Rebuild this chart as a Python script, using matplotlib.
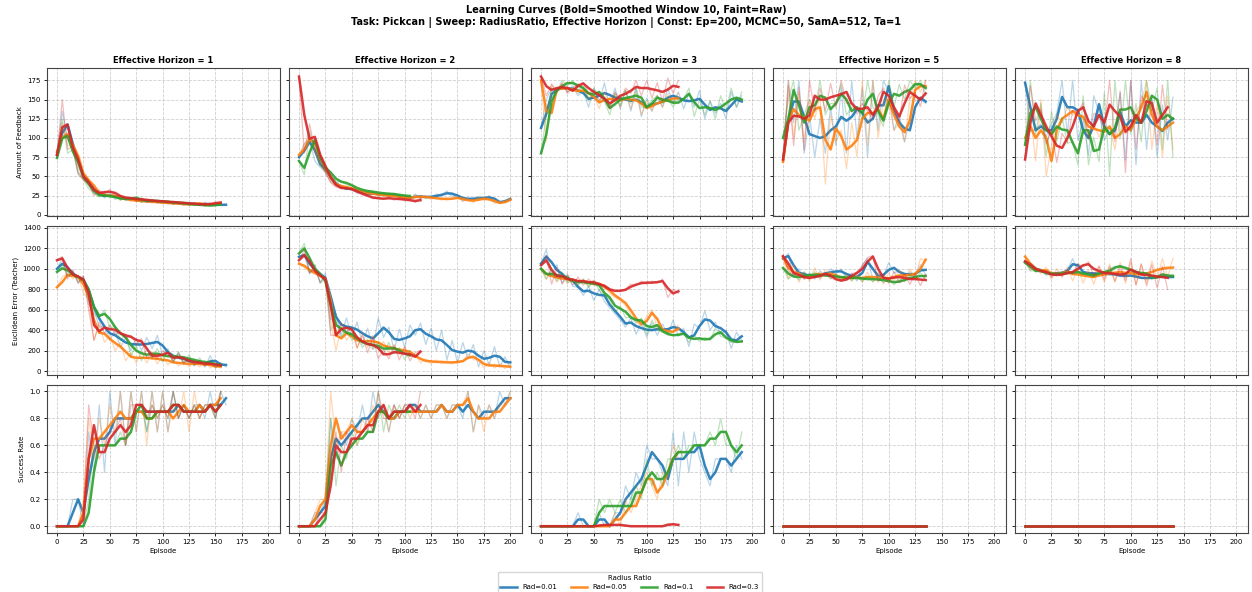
import numpy as np
import pandas as pd
import matplotlib
matplotlib.use("Agg")
import matplotlib.pyplot as plt

# Raw values logged every 5 episodes, one list per radius ratio:
# [Rad=0.01, Rad=0.05, Rad=0.1, Rad=0.3]
radius_labels = ["Rad=0.01", "Rad=0.05", "Rad=0.1", "Rad=0.3"]
horizons      = [1, 2, 3, 5, 8]
episode_step  = 5

# Amount of feedback
feedback_h1 = [
    [78, 135, 100, 85, 55, 48, 40, 28, 27, 22, 28, 20, 23, 19, 22, 17, 20, 16, 19, 15, 18, 14, 17, 14, 16, 13, 15, 12, 16, 12, 14, 12, 14],
    [82, 120, 90, 92, 62, 46, 44, 32, 25, 27, 23, 26, 19, 22, 17, 20, 16, 19, 15, 18, 14, 17, 13, 16, 12, 15, 13, 16, 12, 15, 13, 16],
    [74, 125, 80, 85, 52, 46, 34, 28, 23, 27, 22, 24, 19, 22, 20, 24, 16, 20, 17, 19, 16, 18, 14, 17, 13, 15, 12, 14, 11, 13, 12, 15],
    [78, 150, 85, 90, 55, 45, 40, 25, 32, 27, 33, 24, 25, 20, 23, 18, 22, 17, 20, 16, 19, 15, 18, 14, 17, 13, 16, 12, 15, 13, 17, 15],
]
feedback_h2 = [
    [75, 92, 98, 70, 62, 55, 44, 38, 35, 33, 34, 28, 30, 26, 29, 25, 28, 24, 27, 22, 24, 20, 27, 21, 25, 22, 27, 25, 31, 24, 26, 18, 23, 19, 24, 20, 25, 17, 16, 19, 22],
    [78, 92, 105, 82, 65, 56, 42, 38, 37, 35, 34, 30, 31, 26, 29, 24, 27, 23, 26, 21, 24, 20, 26, 21, 25, 20, 23, 19, 22, 20, 24, 17, 21, 16, 23, 19, 21, 15, 16, 17, 22],
    [70, 52, 110, 85, 65, 58, 52, 42, 44, 39, 38, 32, 33, 29, 31, 27, 29, 26, 28, 24, 26, 23],
    [180, 80, 118, 85, 72, 55, 42, 36, 34, 35, 32, 29, 26, 24, 21, 22, 20, 23, 19, 22, 18, 20, 16, 22],
]
feedback_h3 = [
    [113, 150, 165, 160, 170, 160, 168, 155, 162, 140, 165, 145, 172, 140, 165, 138, 162, 135, 165, 128, 152, 135, 155, 140, 165, 145, 160, 138, 158, 140, 162, 125, 148, 132, 145, 125, 160, 140, 155],
    [175, 95, 170, 158, 170, 160, 165, 158, 165, 152, 155, 138, 160, 142, 158, 140, 162, 138, 160, 130, 148, 135, 155, 140, 158, 145, 158],
    [80, 130, 165, 160, 175, 168, 175, 162, 168, 148, 165, 155, 148, 130, 158, 142, 162, 145, 165, 140, 140, 150, 155, 145, 152, 140, 152, 150, 165, 128, 150, 130, 148, 125, 155, 135, 165, 140, 160],
    [180, 155, 170, 160, 172, 158, 165, 170, 172, 158, 162, 150, 152, 138, 160, 150, 165, 158, 175, 155, 175, 152, 172, 148, 178, 158, 175],
]
feedback_h5 = [
    [72, 175, 120, 175, 80, 130, 75, 125, 80, 140, 90, 165, 80, 175, 100, 165, 75, 175, 110, 175, 160, 110, 130, 95, 125, 155, 150, 145],
    [69, 175, 100, 160, 95, 150, 125, 155, 40, 130, 95, 110, 60, 120, 75, 175, 90, 175, 100, 150, 150, 110, 120, 95, 150, 175, 160, 175],
    [100, 150, 175, 110, 130, 150, 135, 175, 130, 145, 145, 170, 130, 140, 140, 125, 175, 140, 130, 115, 175, 140, 170, 150, 175, 165, 175, 155],
    [72, 168, 90, 166, 84, 175, 135, 165, 135, 171, 139, 175, 145, 145, 131, 145, 135, 125, 155, 165, 145, 135, 121, 169, 151, 159, 141, 175],
]
feedback_h8 = [
    [172, 108, 112, 118, 102, 118, 132, 175, 105, 175, 97, 123, 77, 155, 133, 97, 113, 107, 159, 71, 175, 65, 175, 85, 155, 75, 143, 97, 153],
    [100, 130, 70, 150, 50, 90, 130, 120, 140, 130, 130, 125, 105, 119, 101, 115, 115, 85, 125, 105, 115, 135, 145, 175, 85, 145, 75, 155, 85],
    [91, 175, 105, 145, 75, 135, 95, 127, 93, 95, 65, 155, 65, 101, 69, 159, 51, 175, 99, 175, 105, 145, 95, 175, 135, 165, 85, 175, 75],
    [72, 168, 122, 138, 92, 112, 68, 106, 94, 136, 134, 146, 98, 132, 128, 112, 175, 95, 161, 55, 175, 85, 155, 141, 149, 91, 169, 111],
]

# Euclidean error (teacher)
error_h1 = [
    [1000, 1100, 930, 980, 860, 930, 650, 600, 430, 440, 300, 400, 230, 330, 200, 320, 200, 330, 220, 350, 150, 220, 80, 180, 60, 130, 50, 110, 40, 150, 50, 80, 40],
    [820, 920, 960, 900, 940, 760, 700, 300, 450, 280, 350, 200, 280, 100, 180, 80, 180, 80, 170, 70, 150, 60, 110, 50, 100, 40, 100, 40, 90, 30, 60, 30],
    [970, 1040, 930, 960, 880, 900, 700, 560, 520, 600, 420, 440, 300, 360, 150, 250, 100, 220, 120, 220, 90, 200, 90, 190, 80, 160, 60, 130, 50, 110, 30, 80],
    [1084, 1120, 900, 990, 860, 930, 600, 300, 480, 370, 450, 360, 380, 320, 350, 260, 320, 120, 180, 120, 200, 160, 100, 170, 80, 120, 60, 100, 50, 90, 40, 70],
]
error_h2 = [
    [1117, 1150, 950, 1040, 860, 960, 500, 560, 350, 520, 330, 480, 260, 420, 220, 520, 330, 430, 200, 410, 230, 450, 350, 470, 260, 420, 200, 400, 110, 300, 80, 280, 120, 260, 40, 200, 60, 240, 40, 140, 30],
    [1050, 1010, 970, 950, 920, 880, 500, 200, 440, 300, 380, 220, 360, 230, 350, 210, 290, 180, 260, 160, 240, 140, 160, 80, 120, 70, 110, 70, 100, 70, 105, 90, 170, 110, 110, 30, 80, 30, 70, 25, 60],
    [1150, 1250, 960, 1040, 860, 900, 400, 500, 330, 420, 300, 340, 230, 300, 210, 280, 160, 280, 170, 230, 110, 200],
    [1084, 1183, 960, 1000, 870, 930, 350, 350, 470, 380, 430, 230, 350, 180, 330, 120, 210, 120, 250, 110, 230, 100, 180, 200],
]
error_h3 = [
    [1051, 1190, 940, 1040, 860, 940, 830, 820, 740, 830, 690, 800, 680, 620, 560, 500, 430, 520, 360, 480, 330, 470, 350, 460, 360, 500, 340, 420, 240, 460, 420, 590, 400, 480, 360, 400, 220, 380, 300],
    [1000, 900, 960, 870, 940, 860, 910, 850, 900, 830, 880, 830, 820, 760, 720, 690, 640, 550, 480, 440, 540, 600, 420, 390, 390, 380, 450],
    [1000, 900, 1000, 880, 970, 860, 900, 840, 900, 820, 890, 790, 740, 700, 580, 640, 520, 530, 470, 520, 360, 500, 400, 380, 350, 350, 360, 370, 280, 350, 290, 330, 300, 420, 340, 320, 280, 290, 290],
    [1035, 1130, 850, 1010, 850, 950, 840, 920, 840, 900, 840, 860, 810, 790, 780, 790, 800, 850, 840, 880, 850, 880, 860, 900, 720, 800, 760],
]
error_h5 = [
    [1100, 1150, 920, 1000, 900, 960, 900, 980, 930, 1000, 950, 1000, 900, 960, 880, 1040, 1100, 900, 960, 920, 1060, 960, 980, 920, 970, 930, 1040, 940],
    [1117, 900, 1040, 870, 970, 880, 1010, 890, 990, 920, 950, 880, 940, 880, 950, 870, 970, 870, 960, 850, 960, 880, 990, 880, 1000, 900, 1100, 1080],
    [1008, 900, 950, 890, 970, 910, 970, 910, 960, 900, 950, 890, 940, 885, 935, 875, 925, 875, 915, 865, 895, 845, 905, 875, 945, 895, 965, 895],
    [1124, 980, 940, 940, 900, 920, 920, 940, 960, 910, 890, 880, 910, 950, 970, 1030, 1110, 1130, 870, 954, 856, 974, 866, 954, 846, 954, 836, 944],
]
error_h8 = [
    [1068, 1034, 970, 1000, 938, 966, 950, 970, 990, 1100, 970, 968, 948, 962, 942, 958, 942, 948, 922, 938, 932, 918, 906, 914, 910, 928, 922, 916, 924],
    [1120, 982, 1018, 952, 1018, 898, 1002, 918, 1020, 880, 1010, 860, 992, 848, 1022, 868, 1048, 876, 1062, 858, 1058, 842, 1048, 862, 1076, 904, 1100, 920, 1104],
    [1060, 980, 980, 978, 942, 962, 938, 972, 948, 976, 962, 948, 942, 928, 982, 958, 1000, 1024, 1026, 994, 986, 954, 966, 944, 894, 936, 954, 916, 944],
    [1074, 1006, 994, 966, 972, 918, 962, 928, 988, 950, 1050, 1020, 1070, 930, 1028, 892, 1024, 876, 1014, 886, 1098, 842, 1048, 832, 1038, 812, 1026, 798],
]

# Success rate
success_h1 = [
    [0, 0, 0, 0.2, 0.2, 0, 0.7, 0.4, 0.9, 0.4, 1.0, 0.6, 1.0, 0.6, 1.0, 0.7, 1.0, 0.7, 1.0, 0.7, 1.0, 0.7, 1.0, 0.8, 0.9, 0.8, 0.9, 0.9, 0.8, 1.0, 0.8, 1.0, 0.9],
    [0, 0, 0, 0, 0, 0.2, 0.8, 0.5, 0.8, 0.6, 0.9, 0.7, 1.0, 0.6, 1.0, 0.7, 1.0, 0.6, 1.0, 0.7, 1.0, 0.7, 0.9, 0.8, 1.0, 0.7, 1.0, 0.8, 0.9, 0.9, 0.9, 1.0],
    [0, 0, 0, 0, 0, 0, 0.2, 0.6, 0.6, 0.6, 0.6, 0.6, 0.7, 0.6, 0.8, 0.9, 0.9, 0.7, 0.9, 0.8, 0.9, 0.8, 1.0, 0.8, 0.9, 0.8, 0.9, 0.8, 0.9, 0.9, 0.8, 1.0],
    [0, 0, 0, 0, 0, 0.1, 0.9, 0.6, 0.5, 0.6, 0.7, 0.7, 0.8, 0.6, 0.9, 0.9, 0.9, 0.8, 0.9, 0.8, 0.9, 0.8, 1.0, 0.8, 0.9, 0.8, 0.9, 0.8, 0.9, 0.9, 0.8, 1.0],
]
success_h2 = [
    [0, 0, 0, 0.1, 0.1, 0.2, 0.8, 0.5, 0.7, 0.6, 0.8, 0.7, 0.9, 0.7, 1.0, 0.8, 0.9, 0.7, 0.9, 0.8, 0.9, 0.9, 0.9, 0.8, 0.9, 0.8, 0.9, 0.9, 0.8, 0.9, 0.9, 0.8, 1.0, 0.7, 0.9, 0.8, 0.9, 0.8, 1.0, 0.9, 1.0],
    [0, 0, 0, 0.1, 0.2, 0.2, 1.0, 0.6, 0.7, 0.7, 0.8, 0.6, 0.8, 0.7, 0.9, 0.8, 0.9, 0.7, 0.9, 0.8, 0.9, 0.8, 0.9, 0.8, 0.9, 0.8, 0.9, 0.9, 0.8, 0.9, 0.9, 0.9, 1.0, 0.7, 0.9, 0.7, 0.9, 0.8, 0.9, 0.9, 1.0],
    [0, 0, 0, 0, 0, 0.1, 0.8, 0.3, 0.6, 0.5, 0.7, 0.6, 0.7, 0.7, 0.7, 1.0, 0.7, 0.9, 0.8, 0.9, 0.8, 0.9],
    [0, 0, 0, 0, 0.1, 0.1, 0.5, 0.7, 0.4, 0.7, 0.6, 0.7, 0.7, 0.8, 0.7, 1.0, 0.8, 0.8, 0.9, 0.8, 0.9, 0.9, 0.8, 1.0],
]
success_h3 = [
    [0, 0, 0, 0, 0, 0, 0, 0.1, 0, 0, 0, 0.1, 0, 0, 0.1, 0.1, 0.3, 0.2, 0.4, 0.3, 0.6, 0.5, 0.5, 0.4, 0.3, 0.7, 0.3, 0.7, 0.4, 0.7, 0.5, 0.4, 0.3, 0.5, 0.5, 0.5, 0.4, 0.6, 0.5],
    [0, 0, 0, 0, 0, 0, 0, 0, 0, 0, 0, 0, 0, 0, 0.1, 0, 0.2, 0.1, 0.2, 0.3, 0.4, 0.3, 0.2, 0.4, 0.4, 0.6, 0.5],
    [0, 0, 0, 0, 0, 0, 0, 0, 0, 0, 0, 0.2, 0.1, 0.2, 0.1, 0.2, 0.1, 0.2, 0.3, 0.2, 0.5, 0.3, 0.4, 0.3, 0.5, 0.5, 0.6, 0.5, 0.6, 0.6, 0.6, 0.6, 0.7, 0.6, 0.8, 0.6, 0.6, 0.5, 0.7],
    [0, 0, 0, 0, 0, 0, 0, 0, 0, 0, 0, 0.01, 0.01, 0.01, 0.01, 0.01, 0, 0, 0, 0, 0, 0, 0, 0, 0.02, 0.01, 0.01],
]
success_h5 = [[0] * 28, [0] * 28, [0] * 28, [0] * 28]
success_h8 = [[0] * 29, [0] * 29, [0] * 29, [0] * 29]

rows = [
    ("Amount of Feedback",        [feedback_h1, feedback_h2, feedback_h3, feedback_h5, feedback_h8]),
    ("Euclidean Error (Teacher)", [error_h1, error_h2, error_h3, error_h5, error_h8]),
    ("Success Rate",              [success_h1, success_h2, success_h3, success_h5, success_h8]),
]
row_limits = [(-2, 191), (-35, 1415), (-0.05, 1.05)]
colors     = ["#1f77b4", "#ff7f0e", "#2ca02c", "#d62728"]

fig, axes = plt.subplots(3, 5, figsize=(12.52, 5.92), dpi=100, sharex=True, sharey="row")
fig.subplots_adjust(left=0.0375, right=0.9968, top=0.885, bottom=0.0997, wspace=0.039, hspace=0.068)

handles = []
for r, (ylabel, panels) in enumerate(rows):
    for c, series in enumerate(panels):
        ax = axes[r, c]
        for k, raw in enumerate(series):
            episodes = np.arange(len(raw)) * episode_step
            # Smoothed: trailing mean over 10 episodes (two logged points).
            smooth = pd.Series(raw, dtype=float).rolling(2, min_periods=1).mean()
            ax.plot(episodes, raw, color=colors[k], alpha=0.3, linewidth=0.9)
            line, = ax.plot(episodes, smooth, color=colors[k], alpha=0.9, linewidth=1.8, label=radius_labels[k])
            if r == 0 and c == 0:
                handles.append(line)

        ax.grid(True, linestyle="--", color="#b0b0b0", linewidth=0.6, alpha=0.6)
        ax.tick_params(labelsize=5, length=2.5, width=0.6, pad=2)
        for spine in ax.spines.values():
            spine.set_linewidth(0.8)
            spine.set_color("#444444")
        if r == 0:
            ax.set_title(f"Effective Horizon = {horizons[c]}", fontsize=6, fontweight="bold", pad=4)
        if r == 2:
            ax.set_xlabel("Episode", fontsize=5, labelpad=2)
        if c == 0:
            ax.set_ylabel(ylabel, fontsize=5, labelpad=3)
    axes[r, 0].set_ylim(*row_limits[r])

axes[0, 0].set_xlim(-9.5, 211)
axes[0, 0].set_xticks(np.arange(0, 201, 25))
axes[0, 0].set_yticks(np.arange(0, 176, 25))
axes[1, 0].set_yticks(np.arange(0, 1401, 200))
axes[2, 0].set_yticks(np.arange(0, 1.01, 0.2))

fig.suptitle("Learning Curves (Bold=Smoothed Window 10, Faint=Raw)\n"
             "Task: Pickcan | Sweep: RadiusRatio, Effective Horizon | Const: Ep=200, MCMC=50, SamA=512, Ta=1",
             fontsize=7, fontweight="bold", y=0.992, linespacing=1.25)

fig.legend(handles, radius_labels, loc="upper center", bbox_to_anchor=(0.503, 0.04), ncol=4,
           title="Radius Ratio", fontsize=5, title_fontsize=5, handlelength=2.4, columnspacing=1.9)

fig.savefig("out.png", dpi=100)
